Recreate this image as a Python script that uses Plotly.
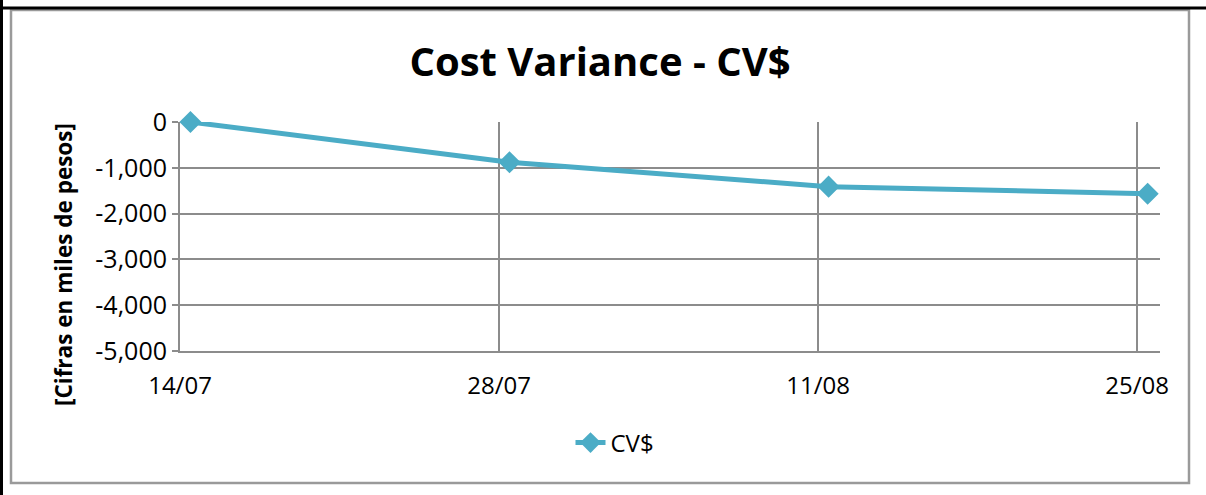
import plotly.graph_objects as go

# ---- data ----
dates = ["2013-07-14 11:00", "2013-07-28 11:00", "2013-08-11 11:00", "2013-08-25 11:00"]
cv_values = [0, -880, -1412, -1565]
series_name = "CV$"
x_tick_dates = ["2013-07-14", "2013-07-28", "2013-08-11", "2013-08-25"]
x_tick_labels = ["14/07", "28/07", "11/08", "25/08"]
y_tick_vals = [0, -1000, -2000, -3000, -4000, -5000]
y_tick_labels = ["0", "-1,000", "-2,000", "-3,000", "-4,000", "-5,000"]
title_text = "Cost Variance - CV$"
y_title_text = "[Cifras en miles de pesos]"

W, H = 1206, 495
L, R, T, B = 180, 46, 122, 144
PW, PH = W - L - R, H - T - B

def px(x):
    return (x - L) / PW

def py(y):
    return (H - B - y) / PH

FONT = "Open Sans, sans-serif"
COLOR = "#4BACC6"
GRID = "#8c8c8c"

fig = go.Figure()
fig.add_trace(go.Scatter(
    x=dates, y=cv_values, name=series_name, mode="lines+markers",
    line=dict(color=COLOR, width=5),
    marker=dict(symbol="diamond", size=17, color=COLOR),
    cliponaxis=False,
))

shapes = [
    # grey inner frame
    dict(type="rect", xref="paper", yref="paper",
         x0=px(11), x1=px(1189), y0=py(483), y1=py(10),
         line=dict(color="#9a9a9a", width=2.5), layer="below"),
    # black outer frame lines
    dict(type="line", xref="paper", yref="paper",
         x0=px(1.5), x1=px(1.5), y0=py(0), y1=py(495),
         line=dict(color="black", width=3)),
    dict(type="line", xref="paper", yref="paper",
         x0=px(0), x1=px(1206), y0=py(8), y1=py(8),
         line=dict(color="black", width=3)),
]

fig.update_layout(
    width=W, height=H,
    margin=dict(l=L, r=R, t=T, b=B, pad=0),
    paper_bgcolor="white", plot_bgcolor="white",
    font=dict(family=FONT, size=22, color="black"),
    title=dict(text="<b>" + title_text + "</b>", x=px(600), xref="paper",
               xanchor="center", y=1 - 62 / H, yanchor="middle",
               font=dict(family=FONT, size=40, color="black")),
    showlegend=True,
    legend=dict(orientation="h", x=px(615), xanchor="center",
                y=py(443), yanchor="middle",
                font=dict(family=FONT, size=24, color="black"),
                bgcolor="rgba(0,0,0,0)"),
    shapes=shapes,
    annotations=[dict(text="<b>" + y_title_text + "</b>", textangle=-90,
                      xref="paper", yref="paper", x=px(63), y=py(265),
                      xanchor="center", yanchor="middle", showarrow=False,
                      font=dict(family=FONT, size=22.5, color="black"))],
    xaxis=dict(type="date", range=["2013-07-14", "2013-08-26"],
               tickvals=x_tick_dates, ticktext=x_tick_labels,
               showgrid=True, gridcolor=GRID, gridwidth=1.5,
               showline=True, linecolor=GRID, linewidth=2,
               ticks="outside", ticklen=12, tickcolor="rgba(0,0,0,0)",
               zeroline=False, tickfont=dict(family=FONT, size=24)),
    yaxis=dict(range=[-5000, 0], tickvals=y_tick_vals, ticktext=y_tick_labels,
               showgrid=True, gridcolor=GRID, gridwidth=1.5,
               showline=True, linecolor=GRID, linewidth=2,
               ticks="outside", ticklen=6, tickcolor=GRID, tickwidth=1.5,
               zeroline=False, tickfont=dict(family=FONT, size=25)),
)

fig.write_html("out.html", config={"displayModeBar": False},
               post_script="document.body.style.margin='0px';")
